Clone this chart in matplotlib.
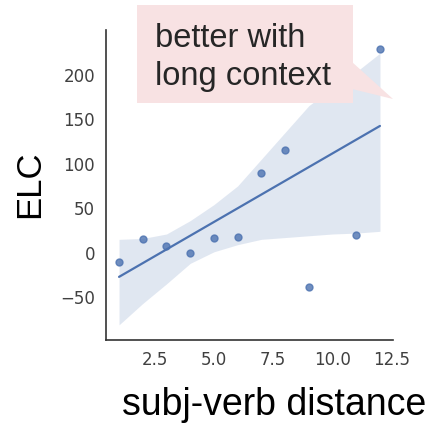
import matplotlib
matplotlib.use("Agg")
import matplotlib.pyplot as plt
import matplotlib.patches as mpatches
import seaborn as sns

# subject-verb distance vs ELC (the x=10 point sits behind the callout box)
distance = [1, 2, 3, 4, 5, 6, 7, 8, 9, 10, 11, 12]
elc = [-10, 15, 7, 0, 17, 18, 89, 115, -39, 230, 20, 229]
# confidence band edges
band_lo = [-81, -57, -35, -12, 1, 9, 15, 17, 19, 21, 22, 24]
band_hi = [15, 16, 21, 36, 54, 75, 105, 135, 165, 185, 203, 224]
xticks = [2.5, 5.0, 7.5, 10.0, 12.5]
yticks = [-50, 0, 50, 100, 150, 200]
callout = ["better with", "long context"]

sns.set_style("white")
blue = sns.color_palette("deep")[0]

W, H = 435, 426
fig = plt.figure(figsize=(W / 100, H / 100), dpi=100)
ax = fig.add_axes([106 / W, 1 - 340 / H, (393 - 106) / W, (340 - 30) / H])

ax.fill_between(distance, band_lo, band_hi, color=blue, alpha=0.17, lw=0, zorder=0)
sns.regplot(x=distance, y=elc, ax=ax, color=blue, ci=None,
            scatter_kws={"s": 25}, line_kws={"lw": 1.6})

ax.set_xlim(0.45, 12.55)
ax.set_ylim(-98, 250)
ax.set_xticks(xticks)
ax.set_yticks(yticks)
ax.tick_params(length=0, labelsize=12, labelcolor=".25", pad=8)
sns.despine(ax=ax)
for s in ["left", "bottom"]:
    ax.spines[s].set_color(".2")
    ax.spines[s].set_linewidth(1.2)

fig.text(30 / W, 1 - 184 / H, "ELC", rotation=90, ha="center", va="center",
         family="Liberation Sans", size=25, color="black")
fig.text(274 / W, 1 - 415 / H, "subj-verb distance", ha="center", va="baseline",
         family="Liberation Sans", size=27, color="black")

# pink callout box pasted on top of the plot
pink = "#f8e2e3"
box = mpatches.Rectangle((137 / W, 1 - 103 / H), 216 / W, 98 / H,
                         transform=fig.transFigure, fc=pink, ec="none", zorder=5)
tip = mpatches.Polygon([(352 / W, 1 - 62 / H), (393 / W, 1 - 99 / H), (352 / W, 1 - 89 / H)],
                       closed=True, transform=fig.transFigure, fc=pink, ec="none", zorder=5)
fig.add_artist(box)
fig.add_artist(tip)
for line, yb in zip(callout, [47, 85]):
    fig.text(155 / W, 1 - yb / H, line, ha="left", va="baseline", zorder=6,
             family="Liberation Sans", size=23.5, color="#262626")

fig.savefig("out.png", dpi=100)
